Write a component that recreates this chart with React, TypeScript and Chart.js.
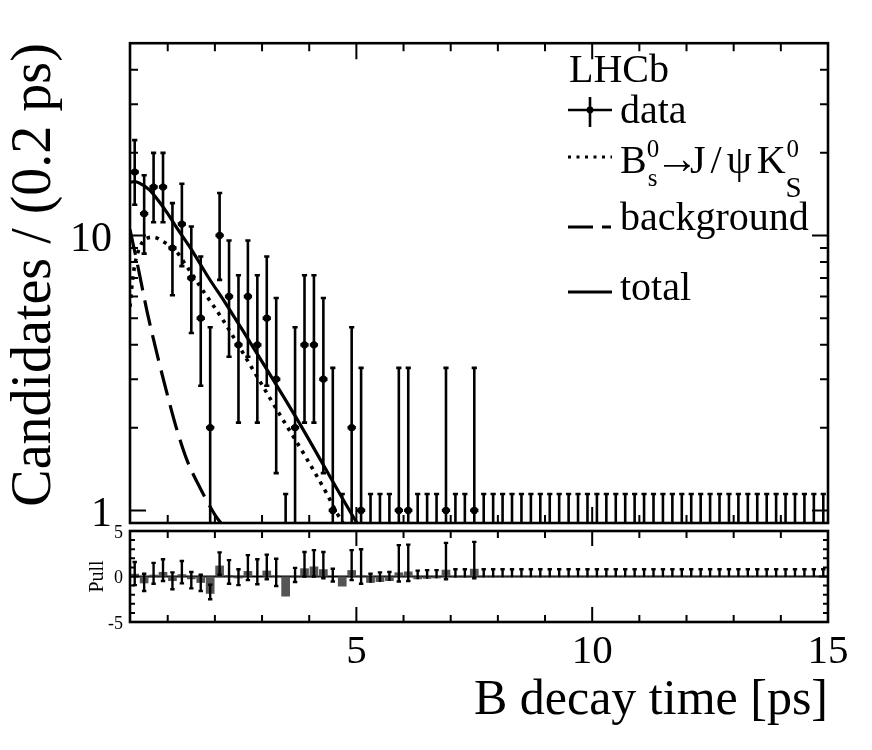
import { useEffect, useRef } from 'react';
import { Chart, registerables } from 'chart.js';

Chart.register(...registerables);

const SERIF = '"Liberation Serif", "Times New Roman", "DejaVu Serif", serif';

// 0.2 ps bins from 0.2 to 15 ps, bin centres
const binCentres = [
  0.3, 0.5, 0.7, 0.9, 1.1, 1.3, 1.5, 1.7, 1.9, 2.1,
  2.3, 2.5, 2.7, 2.9, 3.1, 3.3, 3.5, 3.7, 3.9, 4.1,
  4.3, 4.5, 4.7, 4.9, 5.1, 5.3, 5.5, 5.7, 5.9, 6.1,
  6.3, 6.5, 6.7, 6.9, 7.1, 7.3, 7.5, 7.7, 7.9, 8.1,
  8.3, 8.5, 8.7, 8.9, 9.1, 9.3, 9.5, 9.7, 9.9, 10.1,
  10.3, 10.5, 10.7, 10.9, 11.1, 11.3, 11.5, 11.7, 11.9, 12.1,
  12.3, 12.5, 12.7, 12.9, 13.1, 13.3, 13.5, 13.7, 13.9, 14.1,
  14.3, 14.5, 14.7, 14.9,
];

// candidates per bin
const counts = [
  17, 12, 15, 15, 9, 11, 7, 5, 2, 10,
  6, 4, 6, 4, 5, 3, 0, 2, 4, 4,
  3, 1, 0, 2, 1, 0, 0, 0, 1, 1,
  0, 0, 0, 1, 0, 0, 1, 0, 0, 0,
  0, 0, 0, 0, 0, 0, 0, 0, 0, 0,
  0, 0, 0, 0, 0, 0, 0, 0, 0, 0,
  0, 0, 0, 0, 0, 0, 0, 0, 0, 0,
  0, 0, 0, 0,
];

// 68% Poisson interval for n = 0..17
const poissonLow = [0, 0.173, 0.708, 1.367, 2.086, 2.84, 3.62, 4.419, 5.232, 6.057, 6.891, 7.734, 8.585, 9.441, 10.3, 11.17, 12.04, 12.92];
const poissonHigh = [1.148, 3.3, 4.638, 5.918, 7.163, 8.382, 9.584, 10.77, 11.95, 13.11, 14.27, 15.42, 16.56, 17.7, 18.83, 19.96, 21.08, 22.2];

// fit components
const totalX = [0.2, 0.3, 0.4, 0.6, 0.8, 1.0, 1.2, 1.5, 1.87, 2.22, 2.57, 3.72, 4.92, 5.2];
const totalY = [15.6, 15.7, 15.5, 14.7, 13.4, 12.0, 10.6, 8.9, 7.0, 5.69, 4.57, 2.18, 0.956, 0.8];
const signalX = [0.2, 0.25, 0.3, 0.4, 0.5, 0.7, 0.9, 1.16, 1.41, 1.73, 2.0, 2.18, 2.77, 3.37, 3.93, 4.36, 4.6, 4.85];
const signalY = [5.5, 6.8, 7.8, 9.0, 9.6, 9.85, 9.5, 8.83, 7.69, 6.36, 5.45, 4.9, 3.33, 2.24, 1.56, 1.16, 0.97, 0.83];
const bkgX = [0.2, 0.355, 0.567, 0.779, 0.99, 1.2, 1.41, 1.63, 1.875, 2.015, 2.2];
const bkgY = [10.5, 7.9, 5.24, 3.67, 2.64, 1.95, 1.52, 1.26, 1.05, 0.956, 0.87];

// pulls and their error bar ends (null = no bar)
const pulls = [
  0.3, -0.75, 0.2, 0.5, -0.5, 0.25, -0.3, -0.7, -1.9, 1.2,
  0.15, -0.2, 0.6, 0.0, 0.65, 0.1, -2.2, -0.1, 0.9, 1.1,
  0.8, 0.0, -1.1, 0.7, 0.1, -0.7, -0.6, -0.5, 0.45, 0.55,
  -0.3, -0.25, -0.2, 0.75, -0.1, -0.1, 0.85, -0.08, -0.08, -0.07,
  -0.07, -0.07, -0.07, -0.07, -0.07, -0.07, -0.07, -0.07, -0.07, -0.07,
  -0.06, -0.06, -0.06, -0.06, -0.06, -0.06, -0.06, -0.06, -0.06, -0.06,
  -0.05, -0.05, -0.05, -0.05, -0.05, -0.05, -0.05, -0.05, -0.05, -0.05,
  -0.04, -0.04, -0.04, -0.04,
];
const pullLow = [
  -0.95, -1.6, -0.8, -0.5, -1.4, -0.75, -1.3, -1.6, -2.5, 0.2,
  -0.8, -0.95, -0.4, -0.85, -0.3, -1.05, null, -0.6, 0.0, 0.0,
  -0.2, -0.55, null, -0.4, -0.8, -0.7, -0.6, -0.5, -0.55, -0.5,
  -0.3, -0.25, -0.2, -0.3, -0.1, -0.1, -0.2, -0.08, -0.08, -0.07,
  -0.07, -0.07, -0.07, -0.07, -0.07, -0.07, -0.07, -0.07, -0.07, -0.07,
  -0.06, -0.06, -0.06, -0.06, -0.06, -0.06, -0.06, -0.06, -0.06, -0.06,
  -0.05, -0.05, -0.05, -0.05, -0.05, -0.05, -0.05, -0.05, -0.05, -0.05,
  -0.04, -0.04, -0.04, -0.04,
];
const pullHigh = [
  1.6, 0.3, 1.5, 1.9, 0.45, 1.7, 0.5, 0.2, -0.9, 2.65,
  1.8, 0.8, 2.35, 1.9, 2.4, 1.95, null, 0.95, 2.7, 2.9,
  2.7, 0.85, null, 2.9, 3.0, 0.3, 0.45, 0.5, 3.45, 3.5,
  0.65, 0.7, 0.7, 3.7, 0.8, 0.8, 3.8, 0.8, 0.8, 0.8,
  0.8, 0.8, 0.8, 0.8, 0.8, 0.8, 0.8, 0.8, 0.8, 0.8,
  0.8, 0.8, 0.8, 0.8, 0.8, 0.8, 0.8, 0.8, 0.8, 0.8,
  0.8, 0.8, 0.8, 0.8, 0.8, 0.8, 0.8, 0.8, 0.8, 0.8,
  0.8, 0.8, 0.8, 0.8,
];

// axis ticks
const xLabelTicks = [5, 10, 15];
const xMinorTicks = [1, 2, 3, 4, 6, 7, 8, 9, 11, 12, 13, 14];
const yLabelTicks = [1, 10];
const yMinorTicks = [2, 3, 4, 5, 6, 7, 8, 9, 20, 30, 40];
const pullLabelTicks = [-5, 0, 5];
const pullMinorTicks = [-4, -3, -2, -1, 1, 2, 3, 4];

const font = (size: number) => `${size}px ${SERIF}`;

function drawFrame(chart: any, o: any) {
  const { ctx, chartArea: a, scales } = chart;
  const xs = scales.x;
  const ys = scales.y;
  ctx.save();
  ctx.strokeStyle = '#000';
  ctx.lineWidth = 2;
  ctx.beginPath();
  const xt = (vals: number[], len: number) => {
    for (const v of vals) {
      const px = xs.getPixelForValue(v);
      ctx.moveTo(px, a.bottom); ctx.lineTo(px, a.bottom - len);
      ctx.moveTo(px, a.top); ctx.lineTo(px, a.top + len);
    }
  };
  const yt = (vals: number[], len: number) => {
    for (const v of vals) {
      const py = ys.getPixelForValue(v);
      ctx.moveTo(a.left, py); ctx.lineTo(a.left + len, py);
      ctx.moveTo(a.right, py); ctx.lineTo(a.right - len, py);
    }
  };
  xt(o.xMajor, o.xMajorLen);
  xt(o.xMinor, o.xMinorLen);
  yt(o.yMajor, o.yMajorLen);
  yt(o.yMinor, o.yMinorLen);
  ctx.stroke();
  ctx.lineWidth = 2.6;
  ctx.strokeRect(a.left, a.top, a.right - a.left, a.bottom - a.top);
  ctx.restore();
}

const mainDecor = {
  id: 'mainDecor',
  afterDatasetsDraw(chart: any) {
    const { ctx, chartArea: a, scales } = chart;
    const xs = scales.x;
    const ys = scales.y;
    ctx.save();
    ctx.beginPath();
    ctx.rect(a.left, a.top, a.right - a.left, a.bottom - a.top);
    ctx.clip();
    ctx.strokeStyle = '#000';
    ctx.lineWidth = 2.6;
    ctx.beginPath();
    binCentres.forEach((x, i) => {
      const n = counts[i];
      const px = xs.getPixelForValue(x);
      const hi = ys.getPixelForValue(poissonHigh[n]);
      const loVal = poissonLow[n];
      const lo = loVal > ys.min ? ys.getPixelForValue(loVal) : a.bottom + 2;
      ctx.moveTo(px, lo); ctx.lineTo(px, hi);
      ctx.moveTo(px - 2.6, hi); ctx.lineTo(px + 2.6, hi);
      if (loVal > ys.min) { ctx.moveTo(px - 2.6, lo); ctx.lineTo(px + 2.6, lo); }
    });
    ctx.stroke();
    ctx.lineWidth = 3.4;
    ctx.beginPath();
    binCentres.forEach((x, i) => {
      if (counts[i] === 0) return;
      const py = ys.getPixelForValue(counts[i]);
      ctx.moveTo(xs.getPixelForValue(x - 0.088), py);
      ctx.lineTo(xs.getPixelForValue(x + 0.088), py);
    });
    ctx.stroke();
    ctx.restore();
  },
  afterDraw(chart: any) {
    drawFrame(chart, {
      xMajor: xLabelTicks, xMajorLen: 16, xMinor: xMinorTicks, xMinorLen: 8,
      yMajor: yLabelTicks, yMajorLen: 16, yMinor: yMinorTicks, yMinorLen: 8,
    });
    const { ctx } = chart;
    ctx.save();
    ctx.fillStyle = '#000';
    ctx.strokeStyle = '#000';
    ctx.textAlign = 'left';
    ctx.textBaseline = 'alphabetic';
    ctx.font = font(40);
    ctx.fillText('LHCb', 569, 82);
    ctx.fillText('data', 620, 123);
    // B0s -> J/psi K0S
    let x = 620;
    ctx.fillText('B', x, 173);
    x += ctx.measureText('B').width;
    ctx.font = font(25);
    ctx.fillText('0', x, 157);
    ctx.fillText('s', x + 1, 186);
    ctx.font = font(44);
    ctx.fillText('\u2192', 655, 173);
    ctx.font = font(40);
    (ctx as any).letterSpacing = '5px';
    ctx.fillText('J/\u03c8K', 690, 173);
    x = 690 + ctx.measureText('J/\u03c8K').width - 4;
    (ctx as any).letterSpacing = '0px';
    ctx.font = font(25);
    ctx.fillText('0', x, 157);
    ctx.font = font(29);
    ctx.fillText('S', x - 1, 197);
    ctx.font = font(40);
    ctx.fillText('background', 620, 230);
    ctx.fillText('total', 620, 300);
    // symbols
    ctx.lineWidth = 2.6;
    ctx.beginPath();
    ctx.moveTo(568, 110); ctx.lineTo(612, 110);
    ctx.moveTo(590, 97); ctx.lineTo(590, 127);
    ctx.stroke();
    ctx.beginPath();
    ctx.arc(590, 110, 3.4, 0, Math.PI * 2);
    ctx.fill();
    ctx.lineWidth = 3.2;
    ctx.setLineDash([3, 5.5]);
    ctx.beginPath();
    ctx.moveTo(568, 157); ctx.lineTo(612, 157);
    ctx.stroke();
    ctx.lineWidth = 3;
    ctx.setLineDash([25, 9]);
    ctx.beginPath();
    ctx.moveTo(568, 227); ctx.lineTo(611, 227);
    ctx.stroke();
    ctx.setLineDash([]);
    ctx.beginPath();
    ctx.moveTo(568, 292); ctx.lineTo(612, 292);
    ctx.stroke();
    ctx.restore();
  },
};

const pullDecor = {
  id: 'pullDecor',
  beforeDatasetsDraw(chart: any) {
    const { ctx, chartArea: a, scales } = chart;
    const py = scales.y.getPixelForValue(0);
    ctx.save();
    ctx.strokeStyle = '#000';
    ctx.lineWidth = 2;
    ctx.beginPath();
    ctx.moveTo(a.left, py); ctx.lineTo(a.right, py);
    ctx.stroke();
    ctx.restore();
  },
  afterDatasetsDraw(chart: any) {
    const { ctx, scales } = chart;
    const xs = scales.x;
    const ys = scales.y;
    ctx.save();
    ctx.strokeStyle = '#000';
    ctx.lineWidth = 2.4;
    ctx.beginPath();
    binCentres.forEach((x, i) => {
      const lo = pullLow[i];
      const hi = pullHigh[i];
      if (lo === null || hi === null) return;
      const px = xs.getPixelForValue(x);
      const pl = ys.getPixelForValue(lo);
      const ph = ys.getPixelForValue(hi);
      ctx.moveTo(px, pl); ctx.lineTo(px, ph);
      ctx.moveTo(px - 2.2, ph); ctx.lineTo(px + 2.2, ph);
      if (lo !== pulls[i]) { ctx.moveTo(px - 2.2, pl); ctx.lineTo(px + 2.2, pl); }
    });
    ctx.stroke();
    ctx.restore();
  },
  afterDraw(chart: any) {
    drawFrame(chart, {
      xMajor: xLabelTicks, xMajorLen: 15, xMinor: xMinorTicks, xMinorLen: 7,
      yMajor: pullLabelTicks, yMajorLen: 9, yMinor: pullMinorTicks, yMinorLen: 5,
    });
  },
};

export default function App() {
  const mainRef = useRef<HTMLCanvasElement>(null);
  const pullRef = useRef<HTMLCanvasElement>(null);

  useEffect(() => {
    if (!mainRef.current || !pullRef.current) return;

    const main = new Chart(mainRef.current, {
      type: 'scatter',
      data: {
        datasets: [
          {
            label: 'data',
            data: binCentres.map((x, i) => ({ x, y: counts[i] })).filter(p => p.y > 0),
            pointRadius: 3.6,
            pointBackgroundColor: '#000',
            pointBorderWidth: 0,
          },
          {
            type: 'line',
            label: 'total',
            data: totalX.map((x, i) => ({ x, y: totalY[i] })),
            borderColor: '#000',
            borderWidth: 3.2,
            pointRadius: 0,
            cubicInterpolationMode: 'monotone',
            clip: 0,
          },
          {
            type: 'line',
            label: 'signal',
            data: signalX.map((x, i) => ({ x, y: signalY[i] })),
            borderColor: '#000',
            borderWidth: 3.6,
            borderDash: [3.5, 5.5],
            pointRadius: 0,
            cubicInterpolationMode: 'monotone',
            clip: 0,
          },
          {
            type: 'line',
            label: 'background',
            data: bkgX.map((x, i) => ({ x, y: bkgY[i] })),
            borderColor: '#000',
            borderWidth: 3.2,
            borderDash: [26, 10],
            pointRadius: 0,
            cubicInterpolationMode: 'monotone',
            clip: 0,
          },
        ],
      } as any,
      options: {
        animation: false,
        responsive: false,
        layout: { padding: { left: 0, right: 44, top: 37, bottom: 227 } },
        plugins: { legend: { display: false }, tooltip: { enabled: false } },
        scales: {
          x: { type: 'linear', min: 0.2, max: 15, display: false },
          y: {
            type: 'logarithmic',
            min: 0.9,
            max: 50,
            afterFit: (s: any) => { s.width = 130; },
            afterBuildTicks: (s: any) => { s.ticks = yLabelTicks.map(v => ({ value: v })); },
            grid: { display: false, drawTicks: false },
            border: { display: false },
            ticks: {
              font: { family: SERIF, size: 42 },
              color: '#000',
              padding: 18,
              labelOffset: 5,
              autoSkip: false,
              callback: (v: any) => String(v),
            },
            title: {
              display: true,
              text: 'Candidates / (0.2 ps)',
              align: 'end',
              color: '#000',
              font: { family: SERIF, size: 56 },
              padding: { top: 2, bottom: 0 },
            },
          },
        },
      } as any,
      plugins: [mainDecor],
    });

    const pull = new Chart(pullRef.current, {
      type: 'bar',
      data: {
        datasets: [
          {
            label: 'pull',
            data: binCentres.map((x, i) => ({ x, y: pulls[i] })),
            backgroundColor: '#555555',
            borderWidth: 0,
            barPercentage: 1,
            categoryPercentage: 0.92,
          },
        ],
      } as any,
      options: {
        animation: false,
        responsive: false,
        layout: { padding: { left: 0, right: 44, top: 531, bottom: 0 } },
        plugins: { legend: { display: false }, tooltip: { enabled: false } },
        scales: {
          x: {
            type: 'linear',
            min: 0.2,
            max: 15,
            offset: false,
            afterFit: (s: any) => { s.height = 128; },
            afterBuildTicks: (s: any) => { s.ticks = xLabelTicks.map(v => ({ value: v })); },
            grid: { display: false, drawTicks: false },
            border: { display: false },
            ticks: {
              font: { family: SERIF, size: 41 },
              color: '#000',
              padding: 6,
              maxRotation: 0,
              autoSkip: false,
            },
            title: {
              display: true,
              text: 'B decay time [ps]',
              align: 'end',
              color: '#000',
              font: { family: SERIF, size: 50 },
              padding: { top: 0, bottom: 19 },
            },
          },
          y: {
            type: 'linear',
            min: -5,
            max: 5,
            afterFit: (s: any) => { s.width = 130; },
            afterBuildTicks: (s: any) => { s.ticks = pullLabelTicks.map(v => ({ value: v })); },
            grid: { display: false, drawTicks: false },
            border: { display: false },
            ticks: {
              font: { family: SERIF, size: 18 },
              color: '#000',
              padding: 7,
              labelOffset: 2,
              autoSkip: false,
            },
            title: {
              display: true,
              text: 'Pull',
              color: '#000',
              font: { family: SERIF, size: 20 },
              padding: { top: 86, bottom: 0 },
            },
          },
        },
      } as any,
      plugins: [pullDecor],
    });

    return () => {
      main.destroy();
      pull.destroy();
    };
  }, []);

  return (
    <div style={{ position: 'fixed', left: 0, top: 0, width: 872, height: 750, background: '#fff' }}>
      <canvas ref={mainRef} width={872} height={750} style={{ position: 'absolute', left: 0, top: 0 }} />
      <canvas ref={pullRef} width={872} height={750} style={{ position: 'absolute', left: 0, top: 0 }} />
    </div>
  );
}
